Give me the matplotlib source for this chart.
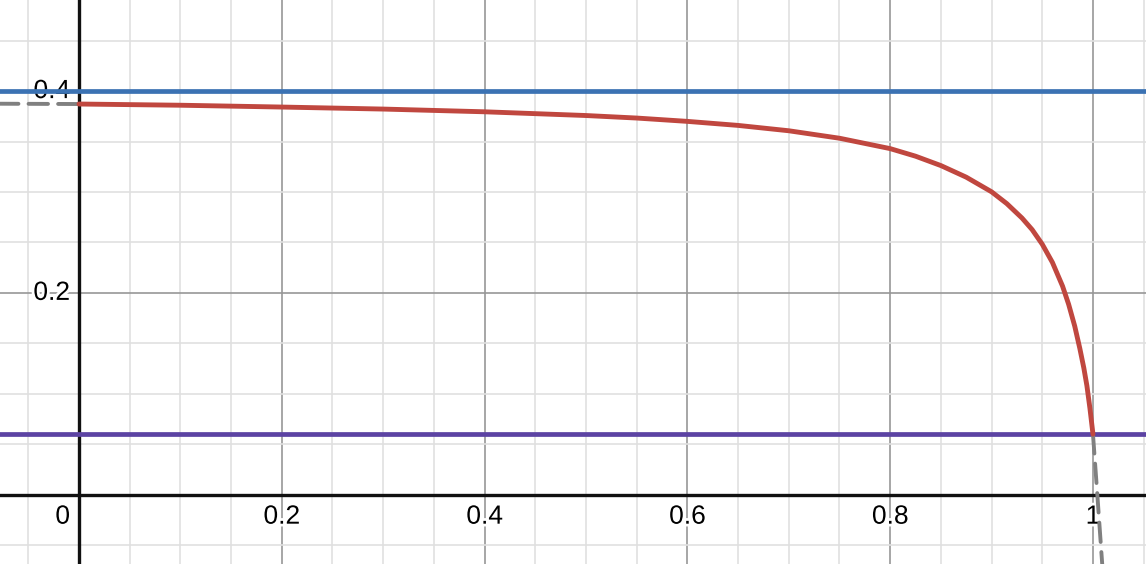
import numpy as np
import matplotlib
matplotlib.use("Agg")
import matplotlib.pyplot as plt
import matplotlib.patheffects as pe

# red curve
curve_x = [0.000, 0.100, 0.200, 0.300, 0.400, 0.500, 0.550, 0.600, 0.650, 0.700,
           0.750, 0.800, 0.825, 0.850, 0.875, 0.900, 0.915, 0.930, 0.940, 0.950,
           0.960, 0.970, 0.976, 0.982, 0.987, 0.991, 0.994, 0.997, 1.000]
curve_y = [0.3872, 0.3860, 0.3842, 0.3822, 0.3795, 0.3758, 0.3733, 0.3700, 0.3660, 0.3607,
           0.3533, 0.3430, 0.3355, 0.3262, 0.3147, 0.3002, 0.2885, 0.2742, 0.2627, 0.2482,
           0.2302, 0.2067, 0.1887, 0.1671, 0.1451, 0.1255, 0.1081, 0.0856, 0.0600]

# grey dashed continuation outside the domain
left_x = [-0.08, 0.0]
left_y = [0.3875, 0.3872]
right_x = [1.000, 1.0043, 1.0092]
right_y = [0.0600, 0.0000, -0.0700]

upper_level = 0.4
lower_level = 0.06

x_ticks = [0, 0.2, 0.4, 0.6, 0.8, 1]
x_tick_labels = ["0", "0.2", "0.4", "0.6", "0.8", "1"]
y_ticks = [0.2, 0.4]
y_tick_labels = ["0.2", "0.4"]

xlim = (-0.0779, 1.0523)
ylim = (-0.0687, 0.4903)

fig = plt.figure(figsize=(11.46, 5.64), dpi=100)
ax = fig.add_axes([0, 0, 1, 1])
ax.set_xlim(*xlim)
ax.set_ylim(*ylim)
ax.axis("off")

# grid
for v in np.arange(-0.05, 1.06, 0.05):
    major = abs(v / 0.2 - round(v / 0.2)) < 1e-6
    ax.axvline(v, color="#979797" if major else "#e0e0e0", lw=1.2, zorder=1)
for v in np.arange(-0.05, 0.5, 0.05):
    major = abs(v / 0.2 - round(v / 0.2)) < 1e-6
    ax.axhline(v, color="#979797" if major else "#e0e0e0", lw=1.2, zorder=1)

# axes
ax.axhline(0, color="#111111", lw=2.4, zorder=2)
ax.axvline(0, color="#111111", lw=2.4, zorder=2)

halo = [pe.withStroke(linewidth=4, foreground="white")]
for t, lab in zip(x_ticks, x_tick_labels):
    if t == 0:
        ax.annotate(lab, (0, 0), xytext=(-9, -10), textcoords="offset pixels",
                    ha="right", va="top", fontsize=19, family="Liberation Sans",
                    path_effects=halo, zorder=3)
    else:
        ax.annotate(lab, (t, 0), xytext=(0, -10), textcoords="offset pixels",
                    ha="center", va="top", fontsize=19, family="Liberation Sans",
                    path_effects=halo, zorder=3)
for t, lab in zip(y_ticks, y_tick_labels):
    ax.annotate(lab, (0, t), xytext=(-9, 0), textcoords="offset pixels",
                ha="right", va="center", fontsize=19, family="Liberation Sans",
                path_effects=halo, zorder=3)

# lines
ax.axhline(upper_level, color="#3b72b3", lw=3.4, zorder=4)
ax.axhline(lower_level, color="#5c43a3", lw=3.4, zorder=4)
ax.plot(left_x, left_y, color="#808080", lw=2.8, dashes=(5, 2.6), zorder=4,
        dash_capstyle="round")
ax.plot(right_x, right_y, color="#808080", lw=2.8, dashes=(5, 2.6), zorder=4,
        dash_capstyle="round")
ax.plot(curve_x, curve_y, color="#c0473f", lw=3.5, zorder=5,
        solid_capstyle="round", solid_joinstyle="round")

fig.savefig("out.png", dpi=100)
